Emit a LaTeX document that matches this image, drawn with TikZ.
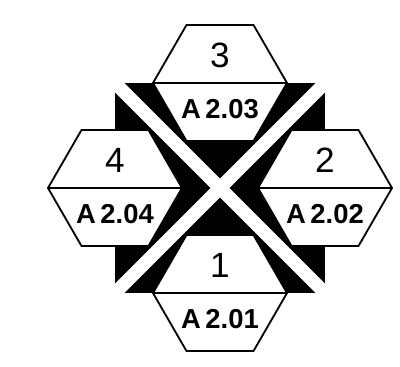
\documentclass[tikz,border=0pt]{standalone}
\usepackage{fontspec}
\setmainfont{Liberation Sans}
\usetikzlibrary{calc}

\tikzset{
 hexline/.style={line width=1.3pt,line join=miter},
 numtext/.style={font=\fontsize{25}{30}\selectfont,inner sep=0pt},
 reftext/.style={font=\fontsize{19.5}{24}\selectfont\bfseries,inner sep=0pt}
}

\begin{document}
\begin{tikzpicture}
 \useasboundingbox (-5.5,-4.45) rectangle (4.5,4.7);
 % black square with the white cross
 \fill (-2.625,-2.625) rectangle (2.625,2.625);
 \draw[white,line width=0.33cm] (-2.625,-2.625)--(2.625,2.625) (-2.625,2.625)--(2.625,-2.625);
 % the four hexagons
 \foreach \x/\y/\n in {0/-2.625/1,2.625/0/2,0/2.625/3,-2.625/0/4} {
  \draw[hexline,fill=white] (\x,\y) +(0:1.675) -- +(60:1.675) -- +(120:1.675) -- +(180:1.675) -- +(240:1.675) -- +(300:1.675) -- cycle;
  \draw[hexline] (\x,\y) +(180:1.675) -- +(0:1.675);
  \node[numtext] (num\n) at (\x,\y+0.7) {\n};
  \node[reftext] (ref\n) at (\x,\y-0.65) {A\,2.0\n};
 }
\end{tikzpicture}
\end{document}
